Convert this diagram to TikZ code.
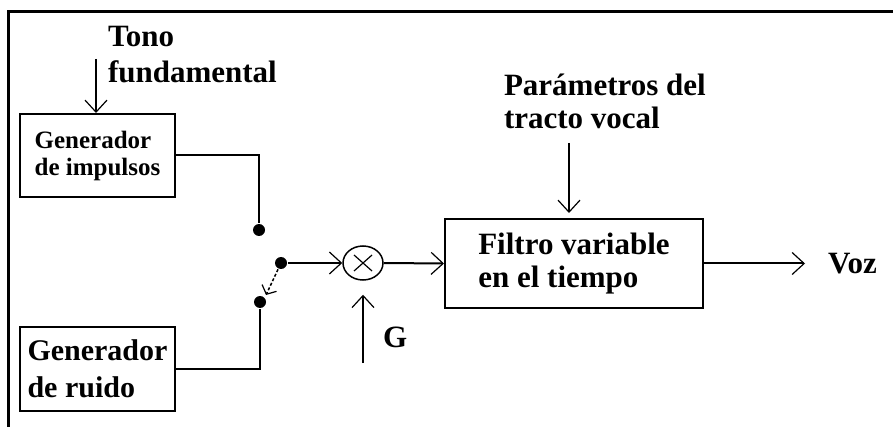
\documentclass[tikz,border=0pt]{standalone}
\usepackage{fontspec}
\setmainfont{Liberation Serif}
\usetikzlibrary{arrows.meta,calc,shapes.geometric}
\begin{document}
\begin{tikzpicture}[x=1pt,y=-1pt,line width=2pt,
  txt/.style={inner sep=0pt,align=left,font=\bfseries\fontsize{31}{36}\selectfont},
  blk/.style={draw,line width=2pt,inner sep=0pt,align=left},
  arr/.style={-{Straight Barb[length=12pt,width=22pt,line width=1.2pt]}},
  dotc/.style={circle,fill=black,inner sep=0pt,minimum size=12pt}]
\useasboundingbox (0,0) rectangle (893,427);
% frame
\draw[line width=3pt] (8.5,427) -- (8.5,11.5) -- (893,11.5);
% blocks
\node[blk,minimum width=155pt,minimum height=83pt,font=\bfseries\fontsize{25}{27}\selectfont] (imp) at (97.5,155.5) {Generador\\de impulsos};
\node[blk,minimum width=155pt,minimum height=84pt,font=\bfseries\fontsize{30}{37}\selectfont] (rui) at (97.5,369) {Generador\\de ruido};
\node[blk,minimum width=258pt,minimum height=89pt,font=\bfseries\fontsize{31}{33}\selectfont] (filt) at (574,263.5) {Filtro variable\\en el tiempo};
\node[draw,ellipse,line width=1.5pt,minimum width=40pt,minimum height=34pt,inner sep=0pt] (mult) at (363,263) {};
\draw[line width=1.2pt] ($(mult.center)+(-9,-8)$) -- ($(mult.center)+(9,8)$);
\draw[line width=1.2pt] ($(mult.center)+(-9,8)$) -- ($(mult.center)+(9,-8)$);
% labels
\node[txt,anchor=base west] (tono) at (107,47) {Tono};
\node[txt,anchor=base west] (fund) at (107,83) {fundamental};
\node[txt,anchor=base west] (par) at (503,96) {Parámetros del};
\node[txt,anchor=base west] (trac) at (503,129) {tracto vocal};
\node[txt,anchor=base west] (g) at (382,347) {G};
\node[txt,anchor=base west] (voz) at (827,273) {Voz};
% switch dots
\node[dotc] (dA) at (259,230) {};
\node[dotc] (dB) at (260,302) {};
\node[dotc] (dC) at (281,263) {};
\coordinate (sw) at (266,295);
% free ends
\coordinate (tonoS) at (96,59);
\coordinate (parS) at (569,143);
\coordinate (gS) at (363,363);
% connectors
\draw[arr] (tonoS) -- (tonoS |- imp.north);
\draw (imp.east) -| (dA);
\draw (rui.east) -| (dB);
\draw[arr] (dC) -- (mult.west);
\draw[line width=1.5pt,dash pattern=on 3pt off 2pt,-{Straight Barb[length=7pt,width=16pt,line width=1.2pt]}] (dC) -- (sw);
\draw[arr,shorten >=14pt] (gS) -- (mult.south);
\draw[arr] (mult.east) -- (filt.west);
\draw[arr,shorten >=5pt] (parS) -- (parS |- filt.north);
\draw[arr,shorten >=22pt] (filt.east) -- (filt.east -| voz.west);
\end{tikzpicture}
\end{document}
